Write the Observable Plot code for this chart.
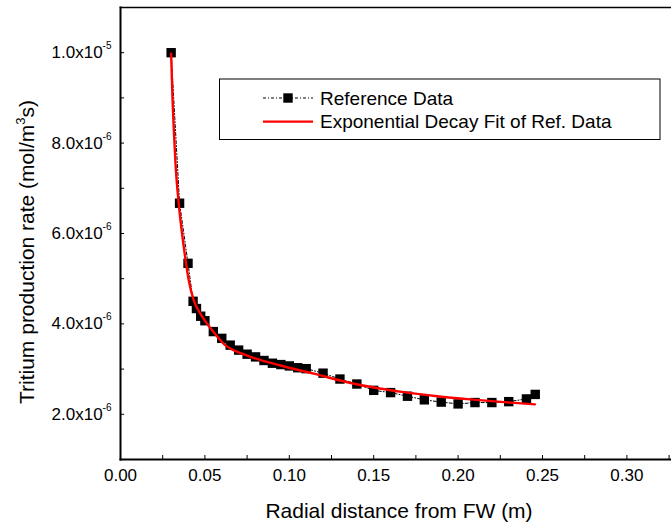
<!DOCTYPE html>
<html>
<head>
<meta charset="utf-8">
<script src="https://cdn.jsdelivr.net/npm/d3@7"></script>
<script src="https://cdn.jsdelivr.net/npm/@observablehq/plot@0.6"></script>
<style>
  html, body { margin: 0; padding: 0; background: #fff; }
  #chart { width: 671px; height: 530px; overflow: hidden; }
</style>
</head>
<body>
<div id="chart"></div>
<script>
// Reference data (radial distance in m, tritium production rate in mol/m^3 s)
const refX = [0.030,0.035,0.040,0.043,0.045,0.0475,0.050,0.055,0.060,0.065,0.070,0.075,0.080,0.085,0.090,0.095,0.100,0.105,0.110,0.120,0.130,0.140,0.150,0.160,0.170,0.180,0.190,0.200,0.210,0.220,0.230,0.2405,0.2457];
const refY = [10.0,6.67,5.34,4.50,4.34,4.17,4.07,3.83,3.68,3.53,3.42,3.33,3.27,3.19,3.13,3.10,3.07,3.03,3.01,2.91,2.78,2.67,2.53,2.48,2.40,2.32,2.27,2.23,2.26,2.26,2.28,2.34,2.44].map(v => v * 1e-6);

// Exponential decay fit curve
const fitX = [0.030,0.0308,0.0316,0.0326,0.0345,0.0375,0.0405,0.0434,0.0474,0.0543,0.0612,0.0751,0.0948,0.1145,0.1343,0.1536,0.1678,0.1876,0.2073,0.2271,0.2455];
const fitY = [9.98,9.0,8.28,7.54,6.66,5.70,4.95,4.52,4.22,3.86,3.56,3.30,3.08,2.90,2.71,2.57,2.49,2.40,2.33,2.27,2.22].map(v => v * 1e-6);

const xTicks = [0,0.05,0.10,0.15,0.20,0.25,0.30];
const xMinorTicks = [0,0.025,0.05,0.075,0.10,0.125,0.15,0.175,0.20,0.225,0.25,0.275,0.30,0.325];
const yTicks = [2e-6,4e-6,6e-6,8e-6,1e-5];
const yMinorTicks = [1e-6,2e-6,3e-6,4e-6,5e-6,6e-6,7e-6,8e-6,9e-6,1e-5,1.1e-5];

const xTitle = "Radial distance from FW (m)";
const yTitleParts = ["Tritium production rate (mol/m", "3", "s)"];
const legendLabels = ["Reference Data", "Exponential Decay Fit of Ref. Data"];

const refData = refX.map((x, i) => ({x, y: refY[i]}));
const fitData = fitX.map((x, i) => ({x, y: fitY[i]}));

const W = 671, H = 530;
const font = "'Liberation Sans', Arial, sans-serif";

function sciFmt(v) {
  const e = Math.floor(Math.log10(v) + 1e-9);
  const m = v / Math.pow(10, e);
  return m.toFixed(1) + "x10|" + e;
}

const plot = Plot.plot({
  width: W,
  height: H,
  marginLeft: 120,
  marginRight: 0,
  marginTop: 7,
  marginBottom: 71,
  style: {fontFamily: font, background: "#fff", color: "#000"},
  x: {domain: [0, 551 / 1688], label: null},
  y: {domain: [1e-6, 1.1e-5], label: null},
  marks: [
    Plot.axisX({ticks: xMinorTicks, tickSize: -4, tickFormat: () => "", stroke: "#000"}),
    Plot.axisY({ticks: yMinorTicks, tickSize: -4, tickFormat: () => "", stroke: "#000"}),
    Plot.axisX({ticks: xTicks, tickSize: 0, tickPadding: 9, tickFormat: d3.format(".2f"), fontSize: 17, fill: "#000"}),
    Plot.axisY({ticks: yTicks, tickSize: 0, tickPadding: 9, tickFormat: sciFmt, fontSize: 17, fill: "#000"}),
    Plot.frame({anchor: "top", stroke: "#000", strokeWidth: 1.6}),
    Plot.frame({anchor: "left", stroke: "#000", strokeWidth: 2}),
    Plot.frame({anchor: "bottom", stroke: "#000", strokeWidth: 2}),
    Plot.line(refData, {x: "x", y: "y", stroke: "#000", strokeWidth: 1, strokeDasharray: "3,2,1,2"}),
    Plot.dot(refData, {x: "x", y: "y", symbol: "square", r: 5.3, fill: "#000", stroke: "none"}),
    Plot.line(fitData, {x: "x", y: "y", stroke: "#ff0000", strokeWidth: 2.4, curve: "monotone-x"})
  ]
});

document.getElementById("chart").appendChild(plot);

const svg = d3.select(plot);

// superscript exponents on y tick labels
svg.selectAll('[aria-label="y-axis tick label"] text').each(function() {
  const t = d3.select(this);
  const s = t.text();
  if (!s.includes("|")) return;
  const [m, e] = s.split("|");
  t.text(m);
  t.append("tspan").attr("font-size", 10).attr("dy", -9).text(e);
});

// axis titles
svg.append("text")
  .attr("x", 399).attr("y", 511).attr("dy", "0.35em")
  .attr("text-anchor", "middle")
  .attr("font-family", font).attr("font-size", 21).attr("fill", "#000")
  .text(xTitle);

const yt = svg.append("text")
  .attr("transform", "translate(27,252) rotate(-90)")
  .attr("dy", "0.35em")
  .attr("text-anchor", "middle")
  .attr("font-family", font).attr("font-size", 21).attr("fill", "#000");
yt.append("tspan").text(yTitleParts[0]);
yt.append("tspan").attr("font-size", 13).attr("dy", -9).text(yTitleParts[1]);
yt.append("tspan").attr("dy", 9).text(yTitleParts[2]);

// legend
const lg = svg.append("g");
lg.append("rect").attr("x", 219.5).attr("y", 79).attr("width", 440.5).attr("height", 60.5)
  .attr("fill", "#fff").attr("stroke", "#000").attr("stroke-width", 1);
lg.append("line").attr("x1", 263).attr("x2", 313).attr("y1", 98).attr("y2", 98)
  .attr("stroke", "#000").attr("stroke-width", 1).attr("stroke-dasharray", "3,2,1,2");
lg.append("rect").attr("x", 283.3).attr("y", 93.3).attr("width", 9.4).attr("height", 9.4).attr("fill", "#000");
lg.append("line").attr("x1", 263).attr("x2", 313).attr("y1", 121.6).attr("y2", 121.6)
  .attr("stroke", "#ff0000").attr("stroke-width", 2.4);
legendLabels.forEach((l, i) => {
  lg.append("text").attr("x", 320).attr("y", i === 0 ? 98 : 121.6).attr("dy", "0.35em")
    .attr("text-anchor", "start")
    .attr("font-family", font).attr("font-size", 19).attr("fill", "#000").text(l);
});
</script>
</body>
</html>
